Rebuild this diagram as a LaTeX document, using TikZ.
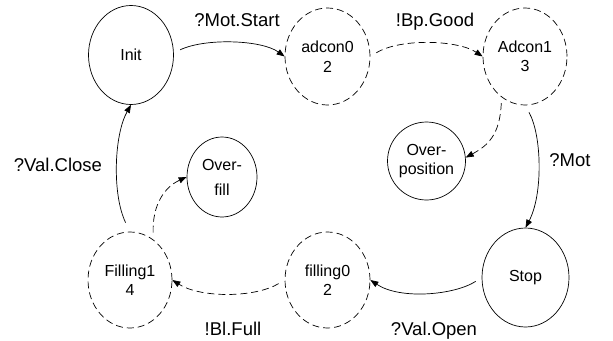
\documentclass[tikz,border=0pt]{standalone}
\usepackage{fontspec}
\setmainfont{Liberation Sans}
\usetikzlibrary{arrows.meta,shapes.geometric}
\begin{document}
\begin{tikzpicture}[x=1pt,y=-1pt,
  st/.style={draw, ellipse, inner sep=0pt, line width=0.7pt, align=center,
    font=\fontsize{16}{19.5}\selectfont},
  dst/.style={st, dash pattern=on 7pt off 4pt},
  tr/.style={line width=0.7pt, -{Triangle[length=8pt,width=6pt]}},
  dtr/.style={tr, dash pattern=on 7pt off 4pt},
  lbl/.style={font=\fontsize{18.5}{20}\selectfont, inner sep=0pt, anchor=base}]
\useasboundingbox (0,0) rectangle (613,340);

\node[st,  minimum width=85pt, minimum height=99pt] (init)     at (131,55)    {Init};
\node[dst, minimum width=85pt, minimum height=97pt] (adcon0)   at (327.5,56.5) {adcon0\\2};
\node[dst, minimum width=84pt, minimum height=97pt] (adcon1)   at (525,56.5)  {Adcon1\\3};
\node[st,  minimum width=73pt, minimum height=78pt] (overpos)  at (426.5,161) {Over-\\position};
\node[st,  minimum width=87pt, minimum height=99pt] (stop)     at (525.5,277.5) {Stop};
\node[dst, minimum width=85pt, minimum height=96pt] (filling0) at (327.5,280) {filling0\\2};
\node[dst, minimum width=84pt, minimum height=96pt] (filling1) at (130,280)   {Filling1\\4};
\node[st,  minimum width=70pt, minimum height=80pt] (overfill) at (222,177)   {Over-\\[5.5pt]fill};

\draw[tr, shorten <=7pt] (init.3) .. controls +(32,-15) and +(-23,-16.5) .. (adcon0.west);
\draw[dtr, shorten <=7pt] (adcon0.east) .. controls +(30,-18.5) and +(-25,-16.5) .. (adcon1.west);
\draw[dtr, shorten <=6pt] (adcon1.240) .. controls +(-1.6,38) and +(22,-12) .. (overpos.5);
\draw[tr, shorten <=8pt] (adcon1.south) .. controls +(17,30) and +(17.5,-33) .. (stop.north);
\draw[tr, shorten <=7pt] (stop.west) .. controls +(-27,17.5) and +(30,20) .. (filling0.east);
\draw[dtr, shorten <=7pt] (filling0.west) .. controls +(-30,18) and +(28,18) .. (filling1.east);
\draw[dtr, shorten <=7pt] (filling1.60) .. controls +(-1,-35) and +(-22,10) .. (overfill.west);
\draw[tr, shorten <=10pt] (filling1.north) .. controls +(-18,-37) and +(-17,30) .. (init.south);

\node[lbl] (l1) at (237,26)    {?Mot.Start};
\node[lbl] (l2) at (435,26)    {!Bp.Good};
\node[lbl] (l3) at (570,166.7) {?Mot};
\node[lbl] (l4) at (434,335.7) {?Val.Open};
\node[lbl] (l5) at (233,335.7) {!Bl.Full};
\node[lbl] (l6) at (58,171.7)  {?Val.Close};
\end{tikzpicture}
\end{document}
